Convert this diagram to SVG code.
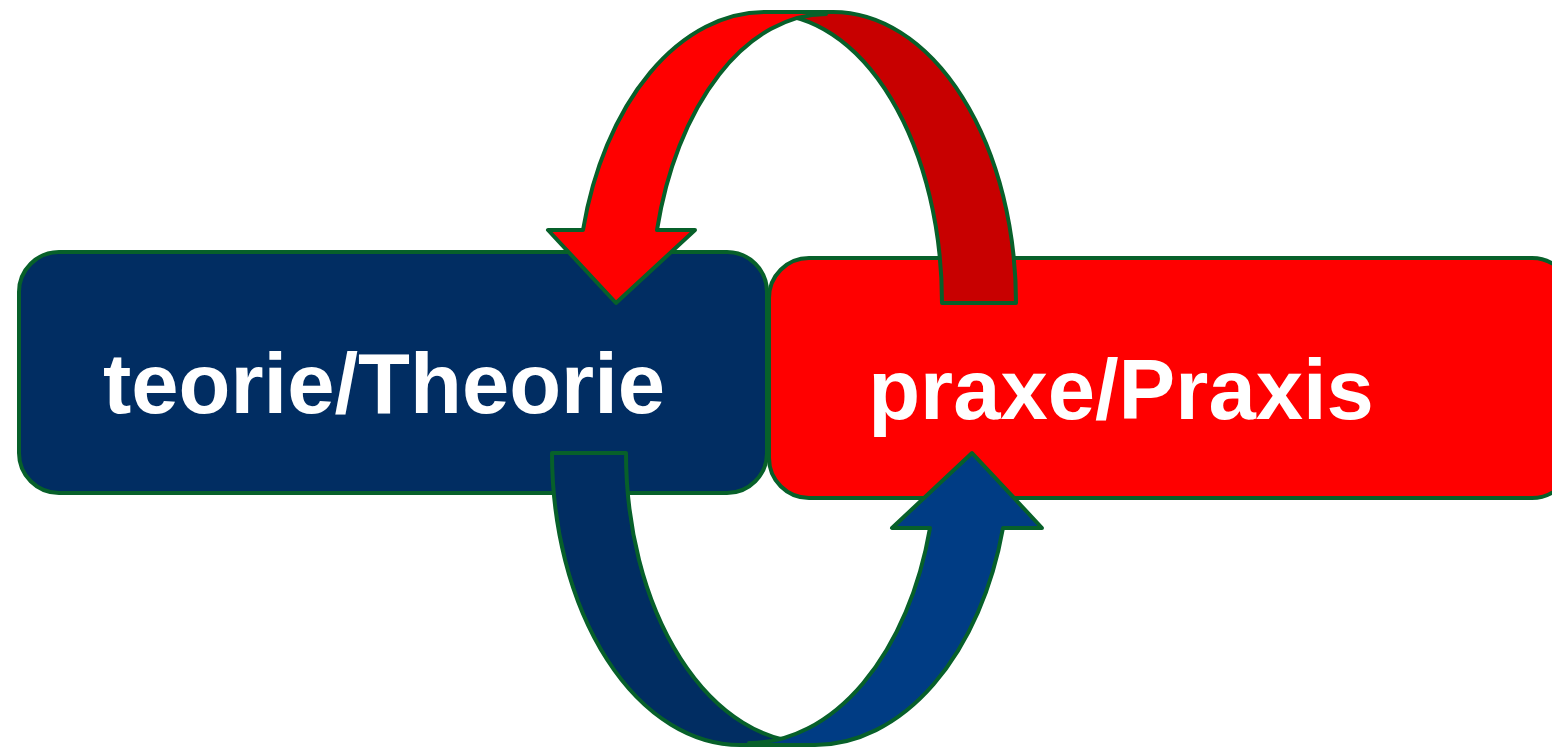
<svg xmlns="http://www.w3.org/2000/svg" width="1552" height="749" viewBox="0 0 1552 749">
<style>
.box{stroke:#07602A;stroke-width:4}
.arr{stroke:#07602A;stroke-width:4;stroke-linejoin:round}
.lbl{font-family:"Liberation Sans",Arial,sans-serif;font-weight:bold;font-size:85px;fill:#FFFFFF;text-anchor:middle}
</style>
<rect width="1552" height="749" fill="#FFFFFF"/>
<g id="node-teorie">
<rect class="box" x="19" y="252" width="748" height="241" rx="40" ry="40" fill="#012D62"/>
<text class="lbl" x="384" y="413">teorie/Theorie</text>
</g>
<g id="node-praxe">
<rect class="box" x="769" y="258" width="803" height="240" rx="40" ry="40" fill="#FF0000"/>
<text class="lbl" x="1121" y="419">praxe/Praxis</text>
</g>
<g id="connectors">
<path class="arr" fill="#C80000" d="M 942 303 L 1016 303 A 183 291 0 0 0 833 12 L 768 12 L 768 14 A 174 289 0 0 1 942 303 Z"/>
<path class="arr" fill="#FF0000" d="M 548 230 L 583 230 A 188 291 0 0 1 765 12 L 826 12 L 826 14 A 175 289 0 0 0 657 230 L 695 230 L 616 303 Z"/>
<path class="arr" fill="#012D62" d="M 552 453 L 626 453 A 185 290 0 0 0 811 743 L 811 745 L 740 745 A 188 292 0 0 1 552 453 Z"/>
<path class="arr" fill="#003C84" d="M 892 528 L 930 528 A 187 290 0 0 1 749 743 L 749 745 L 815 745 A 195 292 0 0 0 1003 528 L 1042 528 L 972 453 Z"/>
</g>
</svg>
